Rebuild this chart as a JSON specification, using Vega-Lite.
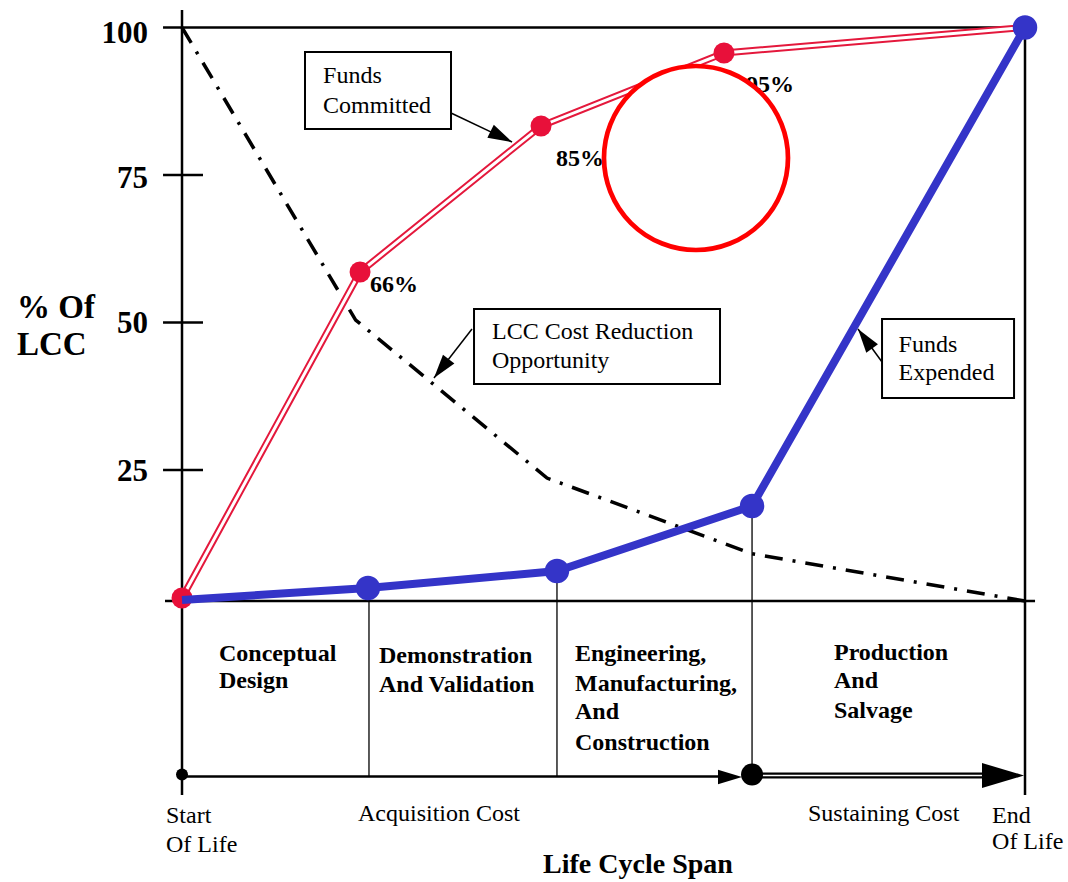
{
  "$schema": "https://vega.github.io/schema/vega-lite/v6.json",
  "width": 1068,
  "height": 882,
  "padding": 0,
  "autosize": {"type": "fit", "contains": "padding"},
  "background": "white",
  "config": {"view": {"stroke": null}},
  "datasets": {
    "committed": [
      {"stage": 0, "pct": 3.3},
      {"stage": 21.12, "pct": 58.56},
      {"stage": 42.59, "pct": 83.31},
      {"stage": 64.29, "pct": 95.68},
      {"stage": 100, "pct": 100}
    ],
    "expended": [
      {"stage": 0, "pct": 2.97},
      {"stage": 22.06, "pct": 5.0},
      {"stage": 44.48, "pct": 7.88},
      {"stage": 67.62, "pct": 18.9},
      {"stage": 100, "pct": 100}
    ],
    "opportunity": [
      {"stage": 0, "pct": 100},
      {"stage": 20.6, "pct": 50.42},
      {"stage": 43.3, "pct": 23.64},
      {"stage": 67.62, "pct": 10.8},
      {"stage": 100, "pct": 2.8}
    ],
    "frame": [
      {"x": 0, "y": 102.97, "x2": 0, "y2": -30.08},
      {"x": 100, "y": 100, "x2": 100, "y2": -30.08},
      {"x": -2.25, "y": 100, "x2": 100, "y2": 100},
      {"x": 0, "y": 2.8, "x2": 101.19, "y2": 2.8},
      {"x": -2.25, "y": 75, "x2": 2.49, "y2": 75},
      {"x": -2.25, "y": 50, "x2": 2.49, "y2": 50},
      {"x": -2.25, "y": 25, "x2": 2.49, "y2": 25},
      {"x": -2.02, "y": 2.8, "x2": 0, "y2": 2.8},
      {"x": 0, "y": -26.95, "x2": 64.5, "y2": -26.95}
    ],
    "phases": [
      {"x": 22.18, "y": 5.0, "x2": 22.18, "y2": -26.95},
      {"x": 44.48, "y": 7.88, "x2": 44.48, "y2": -26.95},
      {"x": 67.62, "y": 18.9, "x2": 67.62, "y2": -26.95}
    ],
    "sustain": [
      {"x": 67.62, "y": -26.78, "x2": 96.5, "y2": -26.78}
    ],
    "callouts": [
      {"x": 31.91, "y": 85.51, "x2": 39.15, "y2": 80.59},
      {"x": 34.4, "y": 48.9, "x2": 29.89, "y2": 40.59},
      {"x": 83.04, "y": 43.31, "x2": 80.19, "y2": 48.9}
    ],
    "heads_small": [
      {"x": 39.15, "y": 80.59, "dir": 116.6},
      {"x": 29.89, "y": 40.59, "dir": 217.8},
      {"x": 80.19, "y": 48.9, "dir": 324},
      {"x": 66.43, "y": -27.03, "dir": 90}
    ],
    "heads_big": [
      {"x": 99.88, "y": -26.78, "dir": 90}
    ],
    "boxes": [
      {"x": 14.59, "x2": 31.91, "y": 95.85, "y2": 82.8},
      {"x": 34.64, "x2": 63.82, "y": 52.29, "y2": 39.58},
      {"x": 83.04, "x2": 98.7, "y": 50.59, "y2": 37.2}
    ],
    "dots_start": [{"x": 0, "y": -26.6}],
    "dots_mid": [{"x": 67.62, "y": -26.6}],
    "ticklabels": [
      {"x": -4.03, "y": 97.37, "t": "100"},
      {"x": -4.03, "y": 72.8, "t": "75"},
      {"x": -4.03, "y": 48.22, "t": "50"},
      {"x": -4.03, "y": 23.14, "t": "25"}
    ],
    "ytitle": [
      {"x": -19.57, "y": 50.76, "t": "% Of"},
      {"x": -19.57, "y": 44.49, "t": "LCC"}
    ],
    "pctlabels": [
      {"x": 22.3, "y": 55.17, "t": "66%"},
      {"x": 44.36, "y": 76.53, "t": "85%"},
      {"x": 66.91, "y": 89.07, "t": "95%"}
    ],
    "boxtext": [
      {"x": 16.73, "y": 90.59, "t": "Funds"},
      {"x": 16.73, "y": 85.51, "t": "Committed"},
      {"x": 36.77, "y": 47.2, "t": "LCC Cost Reduction"},
      {"x": 36.77, "y": 42.29, "t": "Opportunity"},
      {"x": 85.0, "y": 45.0, "t": "Funds"},
      {"x": 85.0, "y": 40.25, "t": "Expended"}
    ],
    "phasetext": [
      {"x": 4.39, "y": -7.37, "t": "Conceptual"},
      {"x": 4.39, "y": -11.95, "t": "Design"},
      {"x": 23.37, "y": -7.71, "t": "Demonstration"},
      {"x": 23.37, "y": -12.63, "t": "And Validation"},
      {"x": 46.62, "y": -7.37, "t": "Engineering,"},
      {"x": 46.62, "y": -12.46, "t": "Manufacturing,"},
      {"x": 46.62, "y": -17.21, "t": "And"},
      {"x": 46.62, "y": -22.46, "t": "Construction"},
      {"x": 77.34, "y": -7.2, "t": "Production"},
      {"x": 77.34, "y": -11.95, "t": "And"},
      {"x": 77.34, "y": -17.03, "t": "Salvage"}
    ],
    "bottomtext": [
      {"x": -1.9, "y": -34.83, "t": "Start"},
      {"x": -1.9, "y": -39.75, "t": "Of Life"},
      {"x": 20.88, "y": -34.49, "t": "Acquisition Cost"},
      {"x": 74.26, "y": -34.49, "t": "Sustaining Cost"},
      {"x": 96.09, "y": -34.83, "t": "End"},
      {"x": 96.09, "y": -39.24, "t": "Of Life"}
    ],
    "xtitle": [
      {"x": 54.09, "y": -43.3, "t": "Life Cycle Span"}
    ],
    "highlight": [
      {"x": 60.97, "y": 77.88}
    ]
  },
  "layer": [
    {
      "data": {"name": "frame"},
      "mark": {"type": "rule", "color": "black", "strokeWidth": 2.5},
      "encoding": {
        "x": {"field": "x", "type": "quantitative", "scale": {"domain": [-21.59, 105.1], "nice": false, "zero": false}, "axis": null},
        "y": {"field": "y", "type": "quantitative", "scale": {"domain": [-44.83, 104.66], "nice": false, "zero": false}, "axis": null},
        "x2": {"field": "x2"},
        "y2": {"field": "y2"}
      }
    },
    {
      "data": {"name": "phases"},
      "mark": {"type": "rule", "color": "black", "strokeWidth": 1.3},
      "encoding": {
        "x": {"field": "x", "type": "quantitative", "scale": {"domain": [-21.59, 105.1], "nice": false, "zero": false}, "axis": null},
        "y": {"field": "y", "type": "quantitative", "scale": {"domain": [-44.83, 104.66], "nice": false, "zero": false}, "axis": null},
        "x2": {"field": "x2"},
        "y2": {"field": "y2"}
      }
    },
    {
      "data": {"name": "sustain"},
      "mark": {"type": "rule", "color": "black", "strokeWidth": 6},
      "encoding": {
        "x": {"field": "x", "type": "quantitative", "scale": {"domain": [-21.59, 105.1], "nice": false, "zero": false}, "axis": null},
        "y": {"field": "y", "type": "quantitative", "scale": {"domain": [-44.83, 104.66], "nice": false, "zero": false}, "axis": null},
        "x2": {"field": "x2"},
        "y2": {"field": "y2"}
      }
    },
    {
      "data": {"name": "sustain"},
      "mark": {"type": "rule", "color": "white", "strokeWidth": 1.6},
      "encoding": {
        "x": {"field": "x", "type": "quantitative", "scale": {"domain": [-21.59, 105.1], "nice": false, "zero": false}, "axis": null},
        "y": {"field": "y", "type": "quantitative", "scale": {"domain": [-44.83, 104.66], "nice": false, "zero": false}, "axis": null},
        "x2": {"field": "x2"},
        "y2": {"field": "y2"}
      }
    },
    {
      "data": {"name": "opportunity"},
      "mark": {"type": "line", "color": "black", "strokeWidth": 3.5, "strokeDash": [18, 10, 3, 10]},
      "encoding": {
        "x": {"field": "stage", "type": "quantitative", "scale": {"domain": [-21.59, 105.1], "nice": false, "zero": false}, "axis": null},
        "y": {"field": "pct", "type": "quantitative", "scale": {"domain": [-44.83, 104.66], "nice": false, "zero": false}, "axis": null}
      }
    },
    {
      "data": {"name": "committed"},
      "mark": {"type": "line", "color": "#e4183c", "strokeWidth": 7},
      "encoding": {
        "x": {"field": "stage", "type": "quantitative", "scale": {"domain": [-21.59, 105.1], "nice": false, "zero": false}, "axis": null},
        "y": {"field": "pct", "type": "quantitative", "scale": {"domain": [-44.83, 104.66], "nice": false, "zero": false}, "axis": null}
      }
    },
    {
      "data": {"name": "committed"},
      "mark": {"type": "line", "color": "white", "strokeWidth": 3},
      "encoding": {
        "x": {"field": "stage", "type": "quantitative", "scale": {"domain": [-21.59, 105.1], "nice": false, "zero": false}, "axis": null},
        "y": {"field": "pct", "type": "quantitative", "scale": {"domain": [-44.83, 104.66], "nice": false, "zero": false}, "axis": null}
      }
    },
    {
      "data": {"name": "committed"},
      "mark": {"type": "point", "shape": "circle", "filled": true, "color": "#e8103a", "opacity": 1, "size": 440},
      "encoding": {
        "x": {"field": "stage", "type": "quantitative", "scale": {"domain": [-21.59, 105.1], "nice": false, "zero": false}, "axis": null},
        "y": {"field": "pct", "type": "quantitative", "scale": {"domain": [-44.83, 104.66], "nice": false, "zero": false}, "axis": null}
      }
    },
    {
      "data": {"name": "expended"},
      "mark": {"type": "line", "color": "#3434c8", "strokeWidth": 8},
      "encoding": {
        "x": {"field": "stage", "type": "quantitative", "scale": {"domain": [-21.59, 105.1], "nice": false, "zero": false}, "axis": null},
        "y": {"field": "pct", "type": "quantitative", "scale": {"domain": [-44.83, 104.66], "nice": false, "zero": false}, "axis": null}
      }
    },
    {
      "data": {"name": "expended"},
      "transform": [{"filter": "datum.stage > 0"}],
      "mark": {"type": "point", "shape": "circle", "filled": true, "color": "#3434c8", "opacity": 1, "size": 600},
      "encoding": {
        "x": {"field": "stage", "type": "quantitative", "scale": {"domain": [-21.59, 105.1], "nice": false, "zero": false}, "axis": null},
        "y": {"field": "pct", "type": "quantitative", "scale": {"domain": [-44.83, 104.66], "nice": false, "zero": false}, "axis": null}
      }
    },
    {
      "data": {"name": "boxes"},
      "mark": {"type": "rect", "fill": "white", "stroke": "black", "strokeWidth": 2},
      "encoding": {
        "x": {"field": "x", "type": "quantitative", "scale": {"domain": [-21.59, 105.1], "nice": false, "zero": false}, "axis": null},
        "y": {"field": "y", "type": "quantitative", "scale": {"domain": [-44.83, 104.66], "nice": false, "zero": false}, "axis": null},
        "x2": {"field": "x2"},
        "y2": {"field": "y2"}
      }
    },
    {
      "data": {"name": "callouts"},
      "mark": {"type": "rule", "color": "black", "strokeWidth": 1.5},
      "encoding": {
        "x": {"field": "x", "type": "quantitative", "scale": {"domain": [-21.59, 105.1], "nice": false, "zero": false}, "axis": null},
        "y": {"field": "y", "type": "quantitative", "scale": {"domain": [-44.83, 104.66], "nice": false, "zero": false}, "axis": null},
        "x2": {"field": "x2"},
        "y2": {"field": "y2"}
      }
    },
    {
      "data": {"name": "heads_small"},
      "mark": {"type": "point", "shape": "M0,0L-0.6,2L0.6,2Z", "filled": true, "color": "black", "opacity": 1, "size": 576},
      "encoding": {
        "x": {"field": "x", "type": "quantitative", "scale": {"domain": [-21.59, 105.1], "nice": false, "zero": false}, "axis": null},
        "y": {"field": "y", "type": "quantitative", "scale": {"domain": [-44.83, 104.66], "nice": false, "zero": false}, "axis": null},
        "angle": {"field": "dir", "type": "quantitative", "scale": null}
      }
    },
    {
      "data": {"name": "heads_big"},
      "mark": {"type": "point", "shape": "M0,0L-0.6,2L0.6,2Z", "filled": true, "color": "black", "opacity": 1, "size": 1764},
      "encoding": {
        "x": {"field": "x", "type": "quantitative", "scale": {"domain": [-21.59, 105.1], "nice": false, "zero": false}, "axis": null},
        "y": {"field": "y", "type": "quantitative", "scale": {"domain": [-44.83, 104.66], "nice": false, "zero": false}, "axis": null},
        "angle": {"field": "dir", "type": "quantitative", "scale": null}
      }
    },
    {
      "data": {"name": "dots_start"},
      "mark": {"type": "point", "shape": "circle", "filled": true, "color": "black", "opacity": 1, "size": 144},
      "encoding": {
        "x": {"field": "x", "type": "quantitative", "scale": {"domain": [-21.59, 105.1], "nice": false, "zero": false}, "axis": null},
        "y": {"field": "y", "type": "quantitative", "scale": {"domain": [-44.83, 104.66], "nice": false, "zero": false}, "axis": null}
      }
    },
    {
      "data": {"name": "dots_mid"},
      "mark": {"type": "point", "shape": "circle", "filled": true, "color": "black", "opacity": 1, "size": 484},
      "encoding": {
        "x": {"field": "x", "type": "quantitative", "scale": {"domain": [-21.59, 105.1], "nice": false, "zero": false}, "axis": null},
        "y": {"field": "y", "type": "quantitative", "scale": {"domain": [-44.83, 104.66], "nice": false, "zero": false}, "axis": null}
      }
    },
    {
      "data": {"name": "ticklabels"},
      "mark": {"type": "text", "font": "Liberation Serif", "fontWeight": "bold", "fontSize": 31, "align": "right", "baseline": "alphabetic", "color": "black"},
      "encoding": {
        "x": {"field": "x", "type": "quantitative", "scale": {"domain": [-21.59, 105.1], "nice": false, "zero": false}, "axis": null},
        "y": {"field": "y", "type": "quantitative", "scale": {"domain": [-44.83, 104.66], "nice": false, "zero": false}, "axis": null},
        "text": {"field": "t"}
      }
    },
    {
      "data": {"name": "ytitle"},
      "mark": {"type": "text", "font": "Liberation Serif", "fontWeight": "bold", "fontSize": 33, "align": "left", "baseline": "alphabetic", "color": "black"},
      "encoding": {
        "x": {"field": "x", "type": "quantitative", "scale": {"domain": [-21.59, 105.1], "nice": false, "zero": false}, "axis": null},
        "y": {"field": "y", "type": "quantitative", "scale": {"domain": [-44.83, 104.66], "nice": false, "zero": false}, "axis": null},
        "text": {"field": "t"}
      }
    },
    {
      "data": {"name": "pctlabels"},
      "mark": {"type": "text", "font": "Liberation Serif", "fontWeight": "bold", "fontSize": 24, "align": "left", "baseline": "alphabetic", "color": "black"},
      "encoding": {
        "x": {"field": "x", "type": "quantitative", "scale": {"domain": [-21.59, 105.1], "nice": false, "zero": false}, "axis": null},
        "y": {"field": "y", "type": "quantitative", "scale": {"domain": [-44.83, 104.66], "nice": false, "zero": false}, "axis": null},
        "text": {"field": "t"}
      }
    },
    {
      "data": {"name": "boxtext"},
      "mark": {"type": "text", "font": "Liberation Serif", "fontSize": 24, "align": "left", "baseline": "alphabetic", "color": "black"},
      "encoding": {
        "x": {"field": "x", "type": "quantitative", "scale": {"domain": [-21.59, 105.1], "nice": false, "zero": false}, "axis": null},
        "y": {"field": "y", "type": "quantitative", "scale": {"domain": [-44.83, 104.66], "nice": false, "zero": false}, "axis": null},
        "text": {"field": "t"}
      }
    },
    {
      "data": {"name": "phasetext"},
      "mark": {"type": "text", "font": "Liberation Serif", "fontWeight": "bold", "fontSize": 24, "align": "left", "baseline": "alphabetic", "color": "black"},
      "encoding": {
        "x": {"field": "x", "type": "quantitative", "scale": {"domain": [-21.59, 105.1], "nice": false, "zero": false}, "axis": null},
        "y": {"field": "y", "type": "quantitative", "scale": {"domain": [-44.83, 104.66], "nice": false, "zero": false}, "axis": null},
        "text": {"field": "t"}
      }
    },
    {
      "data": {"name": "bottomtext"},
      "mark": {"type": "text", "font": "Liberation Serif", "fontSize": 24, "align": "left", "baseline": "alphabetic", "color": "black"},
      "encoding": {
        "x": {"field": "x", "type": "quantitative", "scale": {"domain": [-21.59, 105.1], "nice": false, "zero": false}, "axis": null},
        "y": {"field": "y", "type": "quantitative", "scale": {"domain": [-44.83, 104.66], "nice": false, "zero": false}, "axis": null},
        "text": {"field": "t"}
      }
    },
    {
      "data": {"name": "xtitle"},
      "mark": {"type": "text", "font": "Liberation Serif", "fontWeight": "bold", "fontSize": 28, "align": "center", "baseline": "alphabetic", "color": "black"},
      "encoding": {
        "x": {"field": "x", "type": "quantitative", "scale": {"domain": [-21.59, 105.1], "nice": false, "zero": false}, "axis": null},
        "y": {"field": "y", "type": "quantitative", "scale": {"domain": [-44.83, 104.66], "nice": false, "zero": false}, "axis": null},
        "text": {"field": "t"}
      }
    },
    {
      "data": {"name": "highlight"},
      "mark": {"type": "point", "shape": "circle", "filled": false, "fill": "white", "fillOpacity": 1, "stroke": "#ff0000", "strokeWidth": 4.7, "opacity": 1, "size": 33856},
      "encoding": {
        "x": {"field": "x", "type": "quantitative", "scale": {"domain": [-21.59, 105.1], "nice": false, "zero": false}, "axis": null},
        "y": {"field": "y", "type": "quantitative", "scale": {"domain": [-44.83, 104.66], "nice": false, "zero": false}, "axis": null}
      }
    }
  ]
}
